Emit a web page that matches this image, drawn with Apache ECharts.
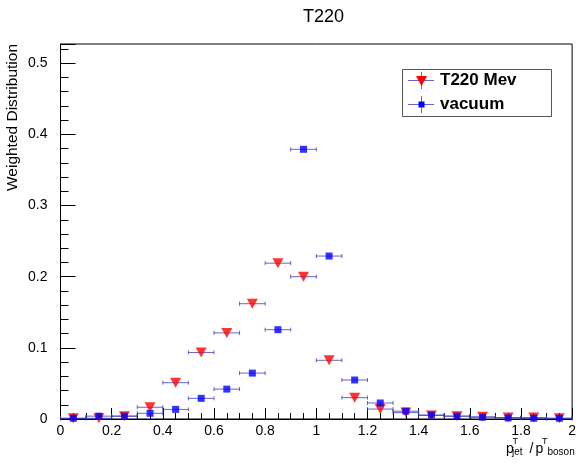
<!DOCTYPE html>
<html>
<head>
<meta charset="utf-8">
<script src="https://cdn.jsdelivr.net/npm/echarts@6/dist/echarts.min.js"></script>
<style>
  html, body { margin: 0; padding: 0; background: #fff; }
  #chart { width: 579px; height: 470px; }
</style>
</head>
<body>
<div id="chart"></div>
<script>
// Bin centres of p_T(jet)/p_T(boson) and half bin width
const binCenters = [0.05, 0.15, 0.25, 0.35, 0.45, 0.55, 0.65, 0.75, 0.85, 0.95,
                    1.05, 1.15, 1.25, 1.35, 1.45, 1.55, 1.65, 1.75, 1.85, 1.95];
const binHalfWidth = 0.05;

// Weighted distributions
const t220Values = [0.001, 0.001, 0.004, 0.0165, 0.051, 0.0935, 0.121, 0.162, 0.219, 0.2,
                    0.0825, 0.030, 0.014, 0.009, 0.005, 0.004, 0.003, 0.002, 0.002, 0.001];
const vacuumValues = [0.001, 0.004, 0.004, 0.008, 0.0135, 0.029, 0.042, 0.0645, 0.1255, 0.379,
                      0.229, 0.0548, 0.0225, 0.011, 0.0056, 0.004, 0.0025, 0.0015, 0.001, 0.001];

const seriesNames = ['T220 Mev', 'vacuum'];
const titleText = 'T220';
const yTitle = 'Weighted Distribution';

const FONT = '"Liberation Sans", Arial, Helvetica, sans-serif';
const ERR_COLOR = 'rgba(50,50,185,0.75)';

const chart = echarts.init(document.getElementById('chart'), null, { renderer: 'canvas' });

function pairs(vals) {
  return binCenters.map((x, i) => [x, vals[i]]);
}

// Horizontal error bars spanning each bin, with short end caps
function errorBarItem(params, api) {
  const x = api.value(0), y = api.value(1);
  const p0 = api.coord([x - binHalfWidth, y]);
  const p1 = api.coord([x + binHalfWidth, y]);
  const cap = 2;
  const style = { stroke: ERR_COLOR, lineWidth: 1, fill: null };
  return {
    type: 'group',
    children: [
      { type: 'line', shape: { x1: p0[0], y1: p0[1], x2: p1[0], y2: p1[1] }, style },
      { type: 'line', shape: { x1: p0[0], y1: p0[1] - cap, x2: p0[0], y2: p0[1] + cap }, style },
      { type: 'line', shape: { x1: p1[0], y1: p1[1] - cap, x2: p1[0], y2: p1[1] + cap }, style }
    ]
  };
}

// Top-aligned text piece used to compose the axis title
function txt(x, y, s, size) {
  return { type: 'text', x: x, y: y, z: 10,
    style: { text: s, fontFamily: FONT, fontSize: size, fill: '#000', verticalAlign: 'top' } };
}

const legX = 402, legY = 69;

const option = {
  animation: false,
  backgroundColor: '#fff',
  title: {
    text: titleText,
    left: 318.5, top: 3, textAlign: 'center',
    textStyle: { fontFamily: FONT, fontSize: 18, fontWeight: 'normal', color: '#000' }
  },
  grid: {
    left: 60.5, right: 5, top: 44, bottom: 51,
    show: true, borderColor: '#000', borderWidth: 1, backgroundColor: 'transparent'
  },
  xAxis: {
    type: 'value', min: 0, max: 2, interval: 0.2,
    axisLine: { lineStyle: { color: '#000', width: 1 } },
    axisTick: { inside: true, length: 11, lineStyle: { color: '#000' } },
    minorTick: { show: true, splitNumber: 4, length: 6, lineStyle: { color: '#000' } },
    splitLine: { show: false },
    axisLabel: {
      fontFamily: FONT, fontSize: 14, color: '#000', margin: 5,
      formatter: v => String(Math.round(v * 10) / 10)
    }
  },
  yAxis: {
    type: 'value', min: 0, max: 0.527, interval: 0.1,
    axisLine: { show: true, lineStyle: { color: '#000', width: 1 } },
    axisTick: { inside: true, length: 15, lineStyle: { color: '#000' } },
    minorTick: { show: true, splitNumber: 5, length: 8, lineStyle: { color: '#000' } },
    splitLine: { show: false },
    axisLabel: {
      fontFamily: FONT, fontSize: 14, color: '#000', margin: 13, showMaxLabel: false,
      formatter: v => String(Math.round(v * 10) / 10)
    }
  },
  series: [
    {
      name: seriesNames[0] + ' err', type: 'custom', renderItem: errorBarItem,
      data: pairs(t220Values), z: 2
    },
    {
      name: seriesNames[1] + ' err', type: 'custom', renderItem: errorBarItem,
      data: pairs(vacuumValues), z: 2
    },
    {
      name: seriesNames[0], type: 'scatter', data: pairs(t220Values),
      symbol: 'triangle', symbolRotate: 180, symbolSize: [11, 10],
      itemStyle: { color: '#ff0000' }, z: 3
    },
    {
      name: seriesNames[1], type: 'scatter', data: pairs(vacuumValues),
      symbol: 'rect', symbolSize: 7,
      itemStyle: { color: '#0000ff' }, z: 4
    }
  ],
  graphic: [
    // y axis title
    {
      type: 'text', x: 5, y: 44, rotation: Math.PI / 2, z: 10,
      style: {
        text: yTitle, fontFamily: FONT, fontSize: 15.5, fill: '#000',
        align: 'right', verticalAlign: 'top'
      }
    },
    // x axis title: p_jet^T / p_boson^T
    txt(506, 442.5, 'p', 14),
    txt(512.5, 437.5, 'T', 9),
    txt(512, 447.5, 'jet', 10),
    txt(529.5, 442.5, '/', 14),
    txt(535.5, 442.5, 'p', 14),
    txt(542, 437.5, 'T', 9),
    txt(547.5, 447.5, 'boson', 10),
    // legend box
    {
      type: 'rect', z: 10,
      shape: { x: legX + 0.5, y: legY + 0.5, width: 149, height: 47 },
      style: { fill: '#fff', stroke: '#555', lineWidth: 1 }
    },
    { type: 'line', z: 11, shape: { x1: 408, y1: 80.5, x2: 434, y2: 80.5 }, style: { stroke: ERR_COLOR, lineWidth: 1 } },
    { type: 'line', z: 11, shape: { x1: 421.5, y1: 72, x2: 421.5, y2: 89 }, style: { stroke: ERR_COLOR, lineWidth: 1 } },
    { type: 'polygon', z: 12, shape: { points: [[416, 76], [427, 76], [421.5, 86]] }, style: { fill: '#ff0000' } },
    {
      type: 'text', x: 440, y: 80, z: 12,
      style: { text: seriesNames[0], fontFamily: FONT, fontSize: 17, fontWeight: 'bold', fill: '#000', verticalAlign: 'middle' }
    },
    { type: 'line', z: 11, shape: { x1: 408, y1: 104.5, x2: 434, y2: 104.5 }, style: { stroke: ERR_COLOR, lineWidth: 1 } },
    { type: 'line', z: 11, shape: { x1: 421.5, y1: 96, x2: 421.5, y2: 113 }, style: { stroke: ERR_COLOR, lineWidth: 1 } },
    { type: 'rect', z: 12, shape: { x: 418.5, y: 101.5, width: 6, height: 6 }, style: { fill: '#0000ff' } },
    {
      type: 'text', x: 440, y: 104, z: 12,
      style: { text: seriesNames[1], fontFamily: FONT, fontSize: 17, fontWeight: 'bold', fill: '#000', verticalAlign: 'middle' }
    }
  ]
};

chart.setOption(option);
</script>
</body>
</html>
